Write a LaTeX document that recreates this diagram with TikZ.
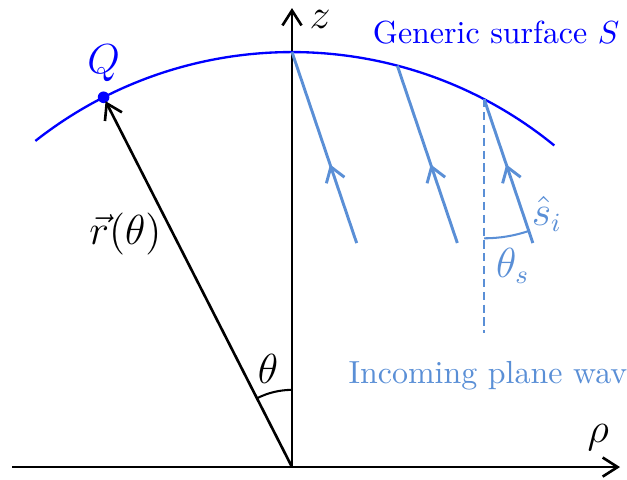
\documentclass[tikz,border=0pt,11pt]{standalone}
\usepackage{amsmath}
\usetikzlibrary{arrows.meta,decorations.markings,calc,positioning}
\definecolor{SurfBlue}{HTML}{0000FF}
\definecolor{WaveBlue}{HTML}{5A8FD6}
\tikzset{
  axis/.style={-{Straight Barb[length=1.8mm,width=2.3mm]}, line width=0.9pt, draw=black},
  surface/.style={draw=SurfBlue, line width=0.8pt},
  ray/.style={draw=WaveBlue, line width=1pt, postaction={decorate},
    decoration={markings, mark=at position 1cm with {\arrow{Straight Barb[length=1.7mm,width=2.3mm]}}}},
  normalline/.style={draw=WaveBlue, line width=0.7pt, dash pattern=on 2.8pt off 1.6pt},
  anglearc/.style={line width=0.7pt},
  mathlabel/.style={font=\fontsize{13.5}{16}\selectfont},
  wavelabel/.style={text=WaveBlue, inner sep=1pt}
}

\begin{document}
\begin{tikzpicture}
  \clip (-3.518,-0.145) rectangle (4.036,5.627);

  % axes
  \coordinate (O) at (0,0);
  \coordinate (rhoL) at (-3.373,0);
  \coordinate (rhoR) at (3.952,0);
  \coordinate (zTop) at (0,5.53);
  \draw[axis] (rhoL) -- (rhoR);
  \draw[axis] (O) -- (zTop);
  \node[mathlabel, inner sep=1pt] (zlab) at (0.34,5.39) {$z$};
  \node[mathlabel] (rholab) at (3.69,0.36) {$\rho$};

  % surface S, radius 5 around the origin
  \draw[surface] (O) ++(128.2:5) arc[start angle=128.2, end angle=50.8, radius=5];
  \node[text=SurfBlue] (surflab) at (2.46,5.24) {Generic surface $S$};

  % point Q and position vector
  \coordinate (Q) at (117:5);
  \fill[SurfBlue] (Q) circle (0.07);
  \node[mathlabel, text=SurfBlue, above=0.5mm of Q] (qlab) {$Q$};
  \draw[axis, shorten >=1.5pt] (O) -- node[mathlabel, pos=0.63, left] (rlab) {$\vec{r}(\theta)$} (Q);
  \draw[anglearc] (90:0.93) arc[start angle=90, end angle=117, radius=0.93];
  \node[mathlabel] (thetalab) at (-0.29,1.18) {$\theta$};

  % incoming rays
  \coordinate (T1) at (0,5);
  \coordinate (T2) at (1.269,4.836);
  \coordinate (T3) at (2.316,4.431);
  \coordinate (B1) at (0.779,2.699);
  \coordinate (B2) at (1.992,2.699);
  \coordinate (B3) at (2.902,2.699);
  \draw[ray] (B1) -- (T1);
  \draw[ray] (B2) -- (T2);
  \draw[ray] (B3) -- (T3);
  \coordinate (N3) at (2.316,1.614);
  \draw[normalline] (T3) -- (N3);
  \draw[anglearc, draw=WaveBlue] ($(T3)+(-90:1.675)$) arc[start angle=-90, end angle=-71.3, radius=1.675];
  \node[mathlabel, wavelabel] (silab) at (3.07,3.05) {$\hat{s}_i$};
  \node[mathlabel, wavelabel] (thslab) at (2.66,2.42) {$\theta_s$};
  \node[wavelabel, anchor=base west] (wavelab) at (0.64,1.01) {Incoming plane wave};
\end{tikzpicture}
\end{document}
